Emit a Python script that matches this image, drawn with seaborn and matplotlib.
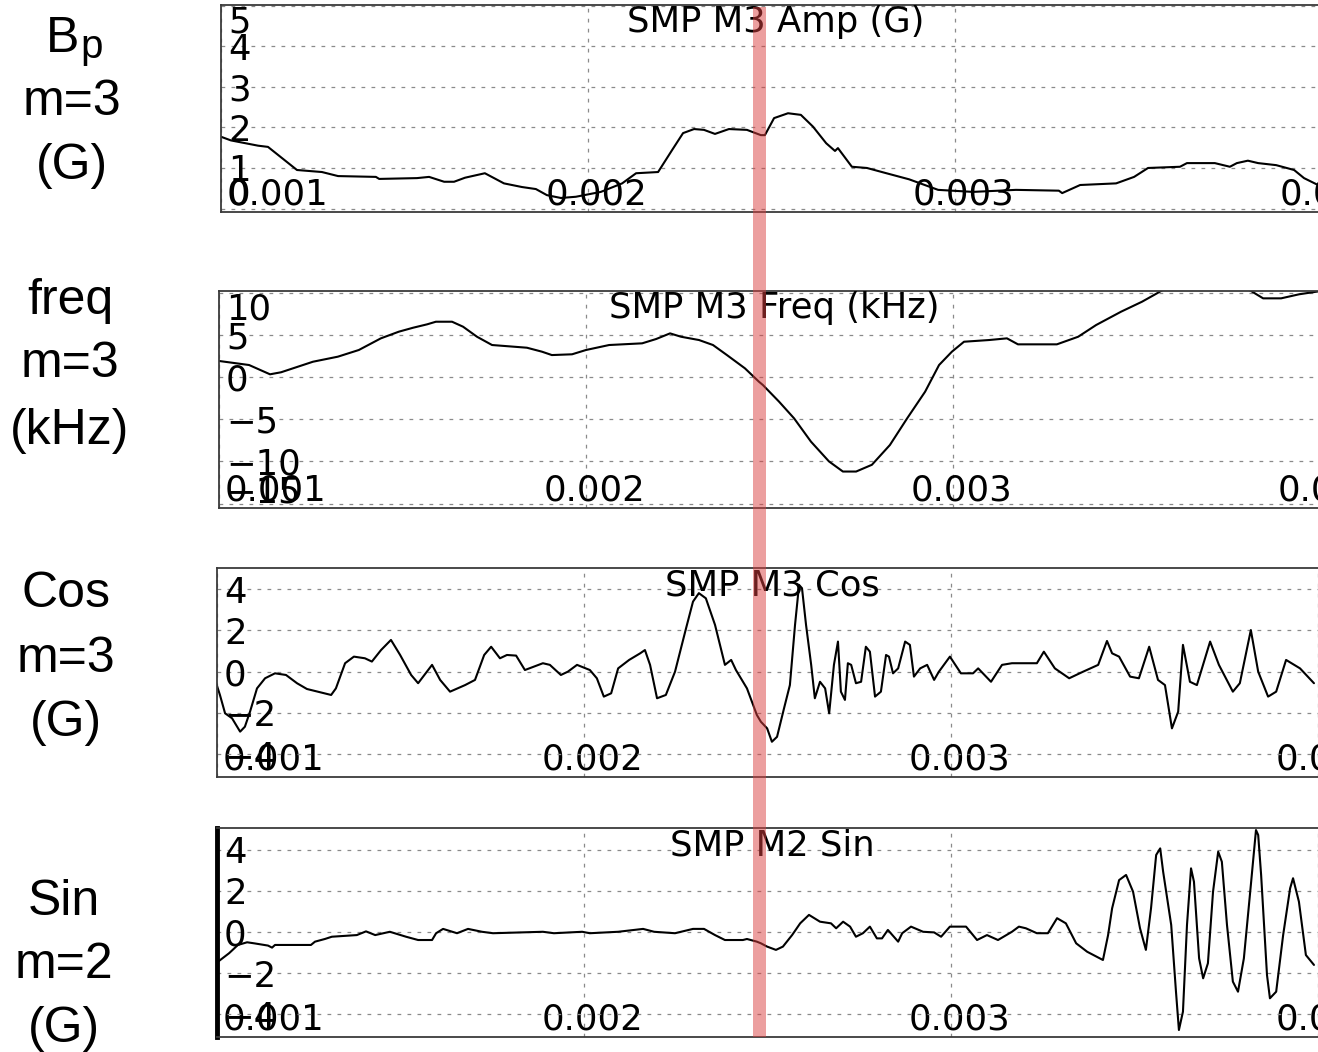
import matplotlib
matplotlib.use("Agg")
import matplotlib.pyplot as plt
import seaborn as sns
from matplotlib.transforms import ScaledTranslation, blended_transform_factory
from matplotlib.patches import Rectangle
from matplotlib.ticker import FuncFormatter

# ---------------- data ----------------
x_ticks = [0.001, 0.002, 0.003, 0.004]

amp_t = [0.001000, 0.001027, 0.001101, 0.001128, 0.001207, 0.001275, 0.001319, 0.001422, 0.001431, 0.001534,
         0.001567, 0.001608, 0.001635, 0.001665, 0.001719, 0.001744, 0.001771, 0.001820, 0.001858, 0.001888,
         0.001926, 0.001967, 0.002035, 0.002093, 0.002131, 0.002191, 0.002229, 0.002259, 0.002289, 0.002316,
         0.002346, 0.002384, 0.002433, 0.002471, 0.002482, 0.002507, 0.002545, 0.002580, 0.002613, 0.002649,
         0.002673, 0.002681, 0.002719, 0.002760, 0.002809, 0.002875, 0.002954, 0.003049, 0.003166, 0.003283,
         0.003292, 0.003341, 0.003439, 0.003488, 0.003526, 0.003613, 0.003632, 0.003708, 0.003749, 0.003768,
         0.003798, 0.003826, 0.003875, 0.003924, 0.003951, 0.003989, 0.004020]
amp_v = [1.77, 1.68, 1.55, 1.52, 0.95, 0.90, 0.80, 0.78, 0.73, 0.75,
         0.78, 0.66, 0.66, 0.76, 0.87, 0.75, 0.62, 0.53, 0.48, 0.33,
         0.26, 0.29, 0.41, 0.62, 0.87, 0.90, 1.44, 1.86, 1.96, 1.94,
         1.84, 1.96, 1.94, 1.81, 1.81, 2.23, 2.35, 2.31, 2.02, 1.61,
         1.42, 1.49, 1.03, 1.00, 0.88, 0.72, 0.46, 0.41, 0.46, 0.44,
         0.38, 0.58, 0.62, 0.78, 1.00, 1.03, 1.12, 1.12, 1.03, 1.12,
         1.18, 1.12, 1.07, 0.95, 0.75, 0.58, 0.45]

freq_t = [0.001000, 0.001082, 0.001139, 0.001169, 0.001256, 0.001324, 0.001381, 0.001441, 0.001490, 0.001529,
          0.001567, 0.001591, 0.001635, 0.001665, 0.001703, 0.001744, 0.001839, 0.001880, 0.001907, 0.001962,
          0.002000, 0.002063, 0.002153, 0.002191, 0.002229, 0.002259, 0.002308, 0.002346, 0.002384, 0.002433,
          0.002471, 0.002482, 0.002526, 0.002567, 0.002613, 0.002662, 0.002700, 0.002736, 0.002779, 0.002828,
          0.002875, 0.002924, 0.002962, 0.002997, 0.003030, 0.003098, 0.003147, 0.003177, 0.003283, 0.003341,
          0.003390, 0.003458, 0.003515, 0.003556, 0.003575, 0.003768, 0.003804, 0.003845, 0.003894, 0.003943,
          0.003989, 0.004020]
freq_v = [1.90, 1.42, 0.32, 0.56, 1.81, 2.41, 3.20, 4.58, 5.37, 5.84,
          6.24, 6.55, 6.55, 5.96, 4.77, 3.79, 3.47, 3.00, 2.60, 2.69,
          3.20, 3.79, 3.99, 4.50, 5.17, 4.77, 4.38, 3.79, 2.60, 1.03,
          -0.55, -0.95, -2.92, -4.90, -7.66, -10.00, -11.20, -11.20, -10.40, -8.06,
          -4.90, -1.74, 1.42, 3.00, 4.18, 4.38, 4.58, 3.87, 3.87, 4.77,
          6.16, 7.74, 8.92, 9.92, 10.40, 10.50, 10.40, 9.32, 9.32, 9.80,
          10.10, 10.30]

cos_t = [0.000992, 0.001008, 0.001022, 0.001041, 0.001063, 0.001076, 0.001090, 0.001109, 0.001131, 0.001158,
         0.001188, 0.001218, 0.001245, 0.001275, 0.001311, 0.001324, 0.001349, 0.001373, 0.001403, 0.001422,
         0.001447, 0.001474, 0.001499, 0.001529, 0.001548, 0.001572, 0.001586, 0.001608, 0.001635, 0.001676,
         0.001703, 0.001728, 0.001747, 0.001771, 0.001790, 0.001815, 0.001839, 0.001888, 0.001907, 0.001937,
         0.001956, 0.001981, 0.002016, 0.002035, 0.002054, 0.002074, 0.002093, 0.002123, 0.002153, 0.002166,
         0.002180, 0.002199, 0.002223, 0.002248, 0.002278, 0.002297, 0.002313, 0.002332, 0.002357, 0.002384,
         0.002401, 0.002414, 0.002444, 0.002471, 0.002482, 0.002499, 0.002512, 0.002526, 0.002545, 0.002561,
         0.002575, 0.002586, 0.002594, 0.002605, 0.002619, 0.002629, 0.002643, 0.002657, 0.002668, 0.002681,
         0.002692, 0.002700, 0.002711, 0.002719, 0.002728, 0.002741, 0.002755, 0.002768, 0.002779, 0.002793,
         0.002809, 0.002823, 0.002831, 0.002842, 0.002856, 0.002875, 0.002888, 0.002899, 0.002916, 0.002935,
         0.002954, 0.002967, 0.002997, 0.003027, 0.003060, 0.003074, 0.003109, 0.003139, 0.003166, 0.003234,
         0.003253, 0.003283, 0.003322, 0.003360, 0.003401, 0.003425, 0.003439, 0.003458, 0.003488, 0.003512,
         0.003540, 0.003564, 0.003583, 0.003602, 0.003619, 0.003632, 0.003651, 0.003670, 0.003706, 0.003730,
         0.003768, 0.003787, 0.003817, 0.003837, 0.003864, 0.003886, 0.003913, 0.003951, 0.003989]
cos_v = [-0.24, -1.13, -2.02, -2.26, -2.91, -2.67, -1.94, -0.81, -0.32, -0.08,
         -0.16, -0.56, -0.84, -0.97, -1.13, -0.81, 0.41, 0.73, 0.65, 0.49,
         1.05, 1.54, 0.81, -0.16, -0.56, 0.00, 0.33, -0.40, -0.97, -0.65,
         -0.40, 0.81, 1.21, 0.65, 0.81, 0.78, 0.08, 0.41, 0.33, -0.16,
         0.00, 0.33, 0.08, -0.32, -1.21, -1.05, 0.16, 0.57, 0.89, 1.05,
         0.33, -1.29, -1.13, 0.00, 2.10, 3.40, 3.81, 3.56, 2.27, 0.33,
         0.57, 0.08, -0.81, -2.10, -2.43, -2.75, -3.40, -3.16, -1.78, -0.65,
         2.27, 4.21, 4.05, 2.27, 0.33, -1.29, -0.49, -0.81, -2.02, 0.33,
         1.46, -0.97, -1.37, 0.41, 0.33, -0.56, -0.49, 1.21, 0.97, -1.21,
         -0.97, 0.81, 0.73, -0.08, 0.16, 1.46, 1.30, -0.24, 0.16, 0.33,
         -0.40, 0.00, 0.73, -0.08, -0.08, 0.16, -0.49, 0.33, 0.41, 0.41,
         0.97, 0.16, -0.32, 0.00, 0.33, 1.49, 0.89, 0.73, -0.24, -0.32,
         1.21, -0.40, -0.65, -2.75, -1.94, 1.30, -0.49, -0.65, 1.46, 0.33,
         -0.97, -0.56, 2.02, 0.00, -1.21, -0.97, 0.57, 0.16, -0.56]

sin_t = [0.001003, 0.001033, 0.001057, 0.001082, 0.001101, 0.001139, 0.001150, 0.001158, 0.001256, 0.001267,
         0.001294, 0.001313, 0.001381, 0.001406, 0.001431, 0.001471, 0.001515, 0.001548, 0.001586, 0.001597,
         0.001616, 0.001654, 0.001684, 0.001722, 0.001752, 0.001888, 0.001918, 0.001995, 0.002016, 0.002093,
         0.002161, 0.002191, 0.002248, 0.002297, 0.002327, 0.002357, 0.002384, 0.002433, 0.002444, 0.002471,
         0.002482, 0.002499, 0.002523, 0.002542, 0.002567, 0.002589, 0.002613, 0.002643, 0.002673, 0.002687,
         0.002706, 0.002725, 0.002741, 0.002760, 0.002779, 0.002798, 0.002812, 0.002828, 0.002856, 0.002867,
         0.002891, 0.002924, 0.002954, 0.002973, 0.002997, 0.003041, 0.003071, 0.003098, 0.003128, 0.003166,
         0.003185, 0.003204, 0.003234, 0.003264, 0.003289, 0.003313, 0.003341, 0.003371, 0.003414, 0.003428,
         0.003439, 0.003458, 0.003477, 0.003496, 0.003515, 0.003531, 0.003545, 0.003559, 0.003570, 0.003578,
         0.003600, 0.003613, 0.003621, 0.003632, 0.003643, 0.003654, 0.003662, 0.003676, 0.003687, 0.003700,
         0.003714, 0.003728, 0.003738, 0.003752, 0.003768, 0.003782, 0.003798, 0.003817, 0.003831, 0.003837,
         0.003845, 0.003861, 0.003869, 0.003886, 0.003905, 0.003924, 0.003932, 0.003948, 0.003967, 0.003989]
sin_v = [-1.44, -1.03, -0.63, -0.50, -0.55, -0.66, -0.76, -0.63, -0.63, -0.47,
         -0.34, -0.23, -0.15, 0.03, -0.15, 0.01, -0.23, -0.39, -0.39, -0.06,
         0.15, -0.06, 0.15, 0.01, -0.06, 0.01, -0.06, 0.01, -0.06, 0.01,
         0.15, 0.01, -0.06, 0.15, 0.15, -0.15, -0.39, -0.39, -0.34, -0.47,
         -0.55, -0.71, -0.87, -0.71, -0.15, 0.42, 0.83, 0.50, 0.42, 0.18,
         0.50, 0.26, -0.23, -0.06, 0.26, -0.31, -0.31, 0.10, -0.47, -0.06,
         0.26, 0.01, -0.02, -0.23, 0.26, 0.26, -0.39, -0.15, -0.39, 0.01,
         0.26, 0.18, -0.06, -0.06, 0.67, 0.42, -0.55, -0.96, -1.36, -0.15,
         1.15, 2.52, 2.77, 1.96, 0.18, -0.87, 1.15, 3.74, 4.06, 2.93,
         0.34, -2.90, -4.76, -3.87, 0.34, 3.09, 2.44, -1.28, -2.25, -1.52,
         1.96, 3.90, 3.41, 0.34, -2.41, -2.90, -1.28, 2.28, 4.95, 4.71,
         2.77, -2.09, -3.22, -2.90, -0.15, 2.12, 2.61, 1.47, -1.12, -1.60]

titles = ["SMP M3 Amp (G)", "SMP M3 Freq (kHz)", "SMP M3 Cos", "SMP M2 Sin"]
side_labels = [["B", "m=3", "(G)"], ["freq", "m=3", "(kHz)"], ["Cos", "m=3", "(G)"], ["Sin", "m=2", "(G)"]]
y_ticks = [[0, 1, 2, 3, 4, 5], [-15, -10, -5, 0, 5, 10], [-4, -2, 0, 2, 4], [-4, -2, 0, 2, 4]]
y_lims = [(-0.086, 5.02), (-15.52, 10.19), (-5.11, 5.03), (-5.10, 5.05)]
marker_band = (0.002450, 0.002486)

series = [(amp_t, amp_v), (freq_t, freq_v), (cos_t, cos_v), (sin_t, sin_v)]
for t, v in series:
    assert len(t) == len(v)

# ---------------- layout / style ----------------
sns.set_style("white")
plt.rcParams["font.family"] = ["DejaVu Sans"]
plt.rcParams["axes.unicode_minus"] = True
plt.rcParams["text.color"] = "black"

DPI = 100
FW, FH = 1318, 1052
fig = plt.figure(figsize=(FW / DPI, FH / DPI), dpi=DPI)
fig.patch.set_facecolor("white")

# pixel boxes: left, top, bottom
boxes = [(221, 5, 212), (219, 291, 508), (217, 568, 777), (217, 828, 1037)]
AX_W = 1110
XLIM = (0.001, 0.0040245)
title_drop = [27, 27, 27, 28]
clamp_top = [True, True, False, False]
clamp_bottom = [True, True, False, False]
bottom_lift = [4, 1, 0, 0]
label_cx = [72, 70, 66, 64]
label_base = [[52, 115, 179], [314, 377, 444], [607, 672, 736], [915, 978, 1042]]
TICK_FS = 25.5
SIDE_FS = 36
SIDE_FAMILY = ["Liberation Sans", "DejaVu Sans"]

def fmt_x(x, _):
    return f"{x:.3f}"

def fmt_y(y, _):
    s = f"{y:.0f}"
    if s == "-0":
        s = "0"
    return s.replace("-", "\u2212")

axes = []
for i, ((L, T, B), (t, v)) in enumerate(zip(boxes, series)):
    H = B - T
    ax = fig.add_axes([L / FW, 1 - B / FH, AX_W / FW, H / FH])
    axes.append(ax)
    sns.lineplot(x=t, y=v, ax=ax, color="black", linewidth=1.5,
                 estimator=None, sort=False, legend=False)
    ax.set_xlim(*XLIM)
    ax.set_ylim(*y_lims[i])
    ax.set_xticks(x_ticks)
    ax.set_yticks(y_ticks[i])
    ax.xaxis.set_major_formatter(FuncFormatter(fmt_x))
    ax.yaxis.set_major_formatter(FuncFormatter(fmt_y))
    ax.set_xlabel("")
    ax.set_ylabel("")
    ax.set_facecolor("white")
    ax.grid(True, color="#8a8a8a", linestyle=(0, (3, 5)), linewidth=0.9)
    ax.set_axisbelow(True)
    for s in ax.spines.values():
        s.set_color("#3a3a3a")
        s.set_linewidth(1.3)
    if i == 3:
        ax.spines["left"].set_color("black")
        ax.spines["left"].set_linewidth(3.5)

    ax.tick_params(axis="both", length=0, labelsize=TICK_FS, colors="black")
    ax.tick_params(axis="x", pad=-5.4)
    ax.tick_params(axis="y", pad=-5.0)

    # x tick labels inside, baseline just above the bottom spine
    for k, tick in enumerate(ax.xaxis.get_major_ticks()):
        lab = tick.label1
        lab.set_verticalalignment("baseline")
        if k == 0:
            lab.set_horizontalalignment("left")
            dx = 6
        else:
            lab.set_horizontalalignment("center")
            dx = 8
        lab.set_transform(lab.get_transform() + ScaledTranslation(dx / DPI, 0, fig.dpi_scale_trans))

    # y tick labels inside, left aligned, clamped at the edges
    yt = ax.yaxis.get_major_ticks()
    for k, tick in enumerate(yt):
        lab = tick.label1
        lab.set_horizontalalignment("left")
        va = "center_baseline"
        if k == len(yt) - 1 and clamp_top[i]:
            va = "top"
        if k == 0 and clamp_bottom[i]:
            va = "baseline"
            lab.set_transform(lab.get_transform() +
                              ScaledTranslation(0, bottom_lift[i] / DPI, fig.dpi_scale_trans))
        lab.set_verticalalignment(va)

    ax.set_title(titles[i], y=1 - title_drop[i] / H, pad=0, fontsize=TICK_FS,
                 va="baseline", color="black")

    # side labels
    rows = side_labels[i]
    for r, txt in enumerate(rows):
        yb = 1 - label_base[i][r] / FH
        if i == 0 and r == 0:
            fig.text(79 / FW, yb, "B", ha="right", va="baseline", fontsize=SIDE_FS,
                     family=SIDE_FAMILY, color="black")
            fig.text(80 / FW, 1 - 58 / FH, "p", ha="left", va="baseline", fontsize=29,
                     family=SIDE_FAMILY, color="black")
        else:
            fig.text(label_cx[i] / FW, yb, txt, ha="center", va="baseline", fontsize=SIDE_FS,
                     family=SIDE_FAMILY, color="black")

# translucent red marker band across all panels
band = Rectangle((marker_band[0], (FH - 1037) / FH), marker_band[1] - marker_band[0], (1037 - 7) / FH,
                 transform=blended_transform_factory(axes[0].transData, fig.transFigure),
                 facecolor=(0.86, 0.25, 0.25), alpha=0.5, linewidth=0, zorder=10)
fig.add_artist(band)

fig.savefig("out.png", dpi=DPI, facecolor="white")
